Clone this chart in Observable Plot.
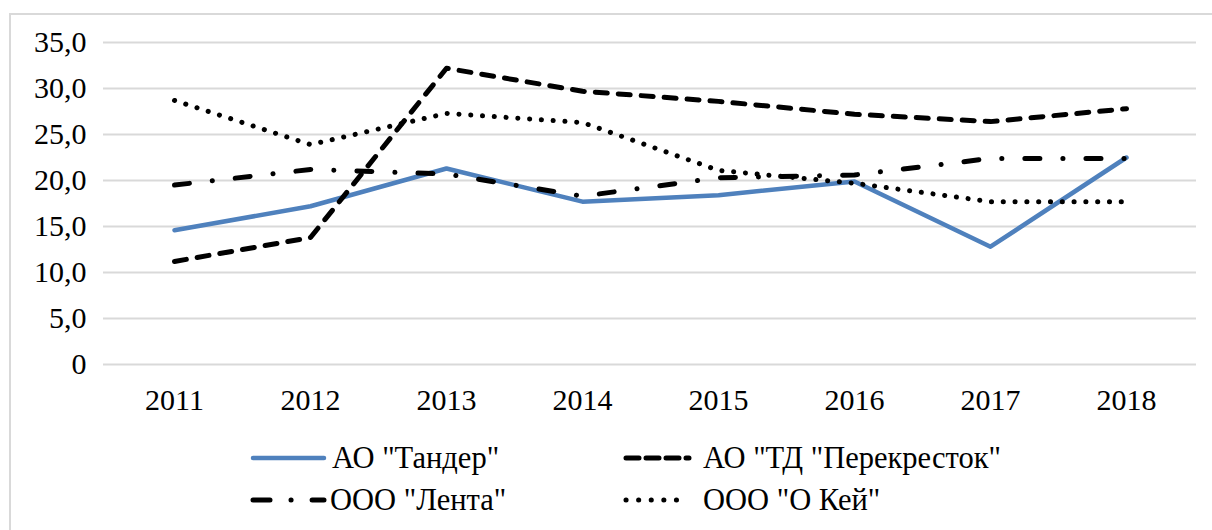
<!DOCTYPE html>
<html>
<head>
<meta charset="utf-8">
<script src="https://cdn.jsdelivr.net/npm/d3@7"></script>
<script src="https://cdn.jsdelivr.net/npm/@observablehq/plot@0.6"></script>
<style>
  html, body { margin: 0; padding: 0; background: #fff; }
  #wrap { position: relative; width: 1212px; height: 530px; overflow: hidden; font-family: 'Liberation Serif'; }
  #frame { position: absolute; left: 9px; top: 13px; width: 1220px; height: 540px; border: 2px solid #d9d9d9; box-sizing: border-box; }
  #chart { position: absolute; left: 0; top: 0; }
  .leg { position: absolute; display: flex; align-items: center; font-family: 'Liberation Serif'; font-size: 30.5px; color: #000; white-space: nowrap; }
  .leg svg { display: block; }
  #chart svg text { font-family: 'Liberation Serif'; }
</style>
</head>
<body>
<div id="wrap">
  <div id="frame"></div>
  <div id="chart"></div>
  <div id="legend"></div>
</div>
<script>
const years = [2011, 2012, 2013, 2014, 2015, 2016, 2017, 2018];
const tander = [14.6, 17.2, 21.3, 17.7, 18.4, 19.9, 12.8, 22.5];
const perekrestok = [11.2, 13.8, 32.2, 29.7, 28.6, 27.2, 26.4, 27.8];
const lenta = [19.5, 21.2, 20.7, 18.3, 20.3, 20.6, 22.4, 22.4];
const okey = [28.7, 23.9, 27.3, 26.3, 21.1, 19.7, 17.7, 17.7];
const seriesNames = ['АО "Тандер"', 'АО "ТД "Перекресток"', 'ООО "Лента"', 'ООО "О Кей"'];
const yTicks = [0, 5, 10, 15, 20, 25, 30, 35];

const styles = [
  {stroke: "#4f81bd", strokeWidth: 4.5, dash: null, cap: "round"},
  {stroke: "#000", strokeWidth: 5, dash: "12,11", cap: "round"},
  {stroke: "#000", strokeWidth: 5, dash: "15,23,0.1,23", cap: "round"},
  {stroke: "#000", strokeWidth: 5, dash: "0.1,11.7", cap: "round"}
];
const legendDash = [null, "13,7", "17,21,0.1,21", "0.1,12.5"];
const seriesValues = [tander, perekrestok, lenta, okey];

const lineMarks = seriesValues.map((vals, i) => {
  const data = years.map((y, j) => ({year: String(y), value: vals[j]}));
  const s = styles[i];
  const opts = {x: "year", y: "value", stroke: s.stroke, strokeWidth: s.strokeWidth, strokeLinecap: s.cap, strokeLinejoin: "round"};
  if (s.dash) opts.strokeDasharray = s.dash;
  return Plot.line(data, opts);
});

const chart = Plot.plot({
  width: 1212,
  height: 420,
  marginLeft: 103,
  marginRight: 16,
  marginTop: 42,
  marginBottom: 56,
  style: {fontFamily: "'Liberation Serif'", fontSize: "30px", color: "#000", background: "transparent", overflow: "visible"},
  x: {type: "point", domain: years.map(String), padding: 0.5, label: null},
  y: {domain: [0, 35], label: null},
  marks: [
    Plot.ruleY(yTicks, {stroke: "#d9d9d9", strokeWidth: 2}),
    Plot.axisY({ticks: yTicks, tickSize: 0, tickPadding: 17, tickFormat: d => d === 0 ? "0" : d.toFixed(1).replace(".", ","), label: null, fill: "#000"}),
    Plot.axisX({tickSize: 0, tickPadding: 24, label: null, fill: "#000"}),
    ...lineMarks
  ]
});
document.getElementById("chart").appendChild(chart);

// legend
const legendPos = [
  {left: 250, top: 458, w: 71, gap: 5},
  {left: 623, top: 458, w: 63, gap: 11},
  {left: 250, top: 500, w: 71, gap: 3},
  {left: 623, top: 500, w: 63, gap: 11}
];
const legend = document.getElementById("legend");
seriesNames.forEach((name, i) => {
  const p = legendPos[i];
  const s = styles[i];
  const div = document.createElement("div");
  div.className = "leg";
  div.style.left = p.left + "px";
  div.style.top = (p.top - 20) + "px";
  div.style.height = "40px";
  const ns = "http://www.w3.org/2000/svg";
  const svg = document.createElementNS(ns, "svg");
  svg.setAttribute("width", p.w + 6);
  svg.setAttribute("height", 12);
  svg.style.marginRight = p.gap + "px";
  const ln = document.createElementNS(ns, "line");
  ln.setAttribute("x1", 3); ln.setAttribute("x2", p.w + 3);
  ln.setAttribute("y1", 6); ln.setAttribute("y2", 6);
  ln.setAttribute("stroke", s.stroke);
  ln.setAttribute("stroke-width", s.strokeWidth);
  ln.setAttribute("stroke-linecap", s.cap);
  if (legendDash[i]) ln.setAttribute("stroke-dasharray", legendDash[i]);
  svg.appendChild(ln);
  div.appendChild(svg);
  const t = document.createElement("span");
  t.textContent = name;
  div.appendChild(t);
  legend.appendChild(div);
});
</script>
</body>
</html>
